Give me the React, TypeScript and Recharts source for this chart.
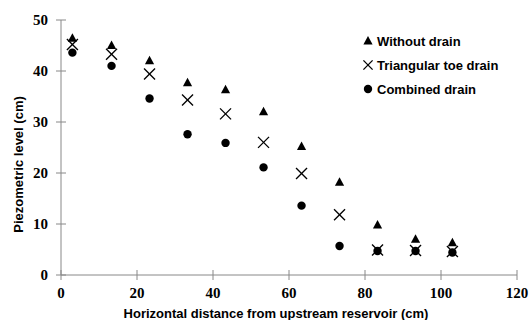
import React from "react";
import {
  ScatterChart,
  Scatter,
  XAxis,
  YAxis,
  Legend,
} from "recharts";

// horizontal distance from upstream reservoir (cm)
const distances = [3, 13.3, 23.3, 33.3, 43.3, 53.3, 63.3, 73.3, 83.3, 93.3, 103];
// piezometric level (cm)
const withoutDrain = [46.4, 45, 42, 37.7, 36.3, 32, 25.2, 18.2, 9.8, 7, 6.3];
const triangularToe = [45.2, 43.3, 39.4, 34.3, 31.6, 26, 19.9, 11.8, 4.9, 4.8, 4.6];
const combined = [43.6, 41, 34.6, 27.6, 25.9, 21.1, 13.6, 5.7, 4.7, 4.7, 4.4];

const xTicks = [0, 20, 40, 60, 80, 100, 120];
const yTicks = [0, 10, 20, 30, 40, 50];

const seriesNames = ["Without drain", "Triangular toe drain", "Combined drain"];

const toPoints = (ys: number[]) => distances.map((x, i) => ({ x, y: ys[i] }));

const AXIS_COLOR = "#888888";
const TICK_FONT = "'Liberation Serif', 'Times New Roman', serif";
const TITLE_FONT = "'Liberation Sans', Arial, sans-serif";

function Triangle({ cx, cy }: any) {
  return (
    <path
      d={`M${cx},${cy - 5} L${cx + 4.6},${cy + 3.5} L${cx - 4.6},${cy + 3.5} Z`}
      fill="#000"
    />
  );
}

function Cross({ cx, cy, r = 5.5 }: any) {
  return (
    <g stroke="#000" strokeWidth={1.3}>
      <line x1={cx - r} y1={cy - r} x2={cx + r} y2={cy + r} />
      <line x1={cx - r} y1={cy + r} x2={cx + r} y2={cy - r} />
    </g>
  );
}

function Dot({ cx, cy }: any) {
  return <circle cx={cx} cy={cy} r={4.2} fill="#000" />;
}

// Excel-style "cross" tick marks plus bold serif labels
function XTick({ x, y, payload }: any) {
  const c = payload.coordinate;
  const axisY = y - 13;
  return (
    <g>
      <line x1={c} x2={c} y1={axisY - 5} y2={axisY + 5} stroke={AXIS_COLOR} />
      <text
        x={x}
        y={y + 10}
        textAnchor="middle"
        fontFamily={TICK_FONT}
        fontWeight="bold"
        fontSize={15}
        fill="#000"
      >
        {payload.value}
      </text>
    </g>
  );
}

function YTick({ x, y, payload }: any) {
  const axisX = x + 13;
  return (
    <g>
      <line x1={axisX - 5} x2={axisX + 5} y1={payload.coordinate} y2={payload.coordinate} stroke={AXIS_COLOR} />
      <text
        x={x}
        y={y + 5}
        textAnchor="end"
        fontFamily={TICK_FONT}
        fontWeight="bold"
        fontSize={15}
        fill="#000"
      >
        {payload.value}
      </text>
    </g>
  );
}

function LegendBox() {
  const markers = [
    <Triangle cx={368} cy={41} />,
    <Cross cx={368} cy={65} r={4.6} />,
    <Dot cx={368} cy={89} />,
  ];
  return (
    <svg width={530} height={110} style={{ overflow: "visible" }}>
      {seriesNames.map((name, i) => {
        const cy = 41 + i * 24;
        return (
          <g key={name}>
            {markers[i]}
            <text
              x={377}
              y={cy + 4.5}
              fontFamily={TITLE_FONT}
              fontWeight="bold"
              fontSize={13}
              fill="#000"
            >
              {name}
            </text>
          </g>
        );
      })}
    </svg>
  );
}

export default function App() {
  return (
    <div style={{ position: "absolute", top: 0, left: 0, width: 530, height: 320, background: "#fff" }}>
      <ScatterChart width={530} height={320} margin={{ top: 20, right: 13, bottom: 0, left: 0 }}>
        <XAxis
          type="number"
          dataKey="x"
          domain={[0, 120]}
          ticks={xTicks}
          height={45}
          stroke={AXIS_COLOR}
          tickLine={false}
          tickSize={5}
          tickMargin={8}
          tick={<XTick />}
          label={{
            value: "Horizontal distance from upstream reservoir (cm)",
            position: "insideBottom",
            offset: 2,
            dx: -13,
            style: { fontFamily: TITLE_FONT, fontWeight: "bold", fontSize: 13, fill: "#000" },
          }}
        />
        <YAxis
          type="number"
          dataKey="y"
          domain={[0, 50]}
          ticks={yTicks}
          width={61}
          stroke={AXIS_COLOR}
          tickLine={false}
          tickSize={5}
          tickMargin={8}
          tick={<YTick />}
          label={{
            value: "Piezometric level (cm)",
            angle: -90,
            position: "insideLeft",
            offset: 18,
            dy: 17,
            style: { textAnchor: "middle", fontFamily: TITLE_FONT, fontWeight: "bold", fontSize: 13, fill: "#000" },
          }}
        />
        <Legend
          layout="vertical"
          align="center"
          verticalAlign="middle"
          content={() => <LegendBox />}
          wrapperStyle={{ position: "absolute", top: 0, left: 0, width: 530, height: 110 }}
        />
        <Scatter name={seriesNames[0]} data={toPoints(withoutDrain)} shape={<Triangle />} isAnimationActive={false} />
        <Scatter name={seriesNames[1]} data={toPoints(triangularToe)} shape={<Cross />} isAnimationActive={false} />
        <Scatter name={seriesNames[2]} data={toPoints(combined)} shape={<Dot />} isAnimationActive={false} />
      </ScatterChart>
    </div>
  );
}
